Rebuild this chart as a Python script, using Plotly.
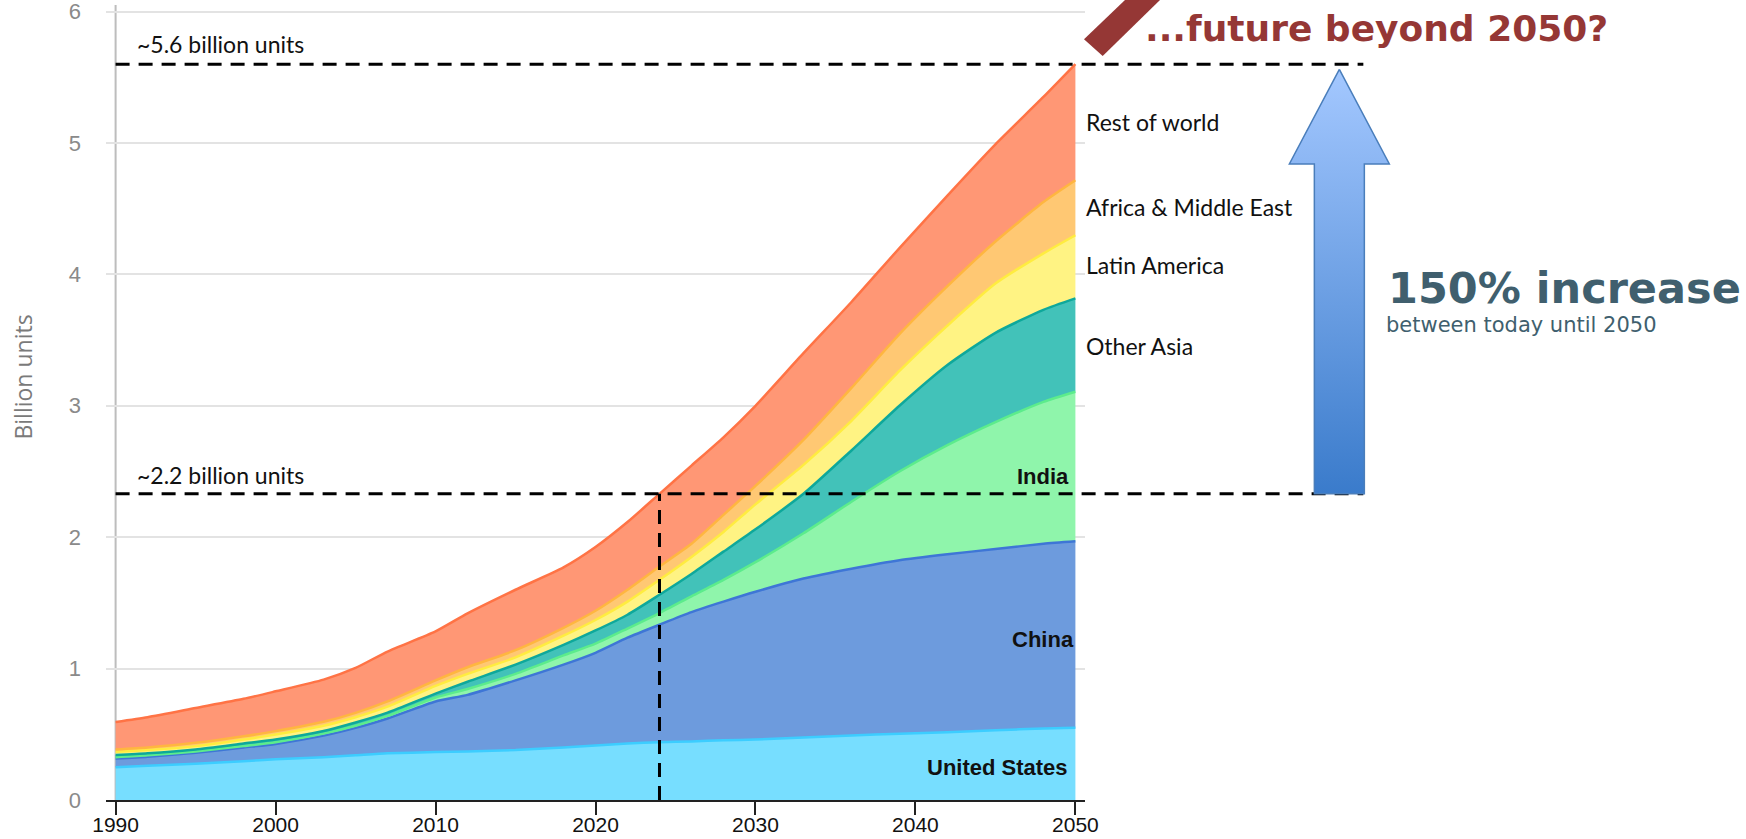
import plotly.graph_objects as go

# ---- data: installed base by region, billion units (stacked from the bottom) ----
years = [1990, 1992, 1995, 1998, 2000, 2003, 2005, 2007, 2010, 2012, 2015, 2018, 2020,
         2022, 2024, 2026, 2028, 2030, 2033, 2036, 2039, 2042, 2045, 2048, 2050]

united_states = [0.25, 0.26, 0.275, 0.295, 0.31, 0.325, 0.34, 0.355, 0.365, 0.37, 0.38, 0.40, 0.415,
                 0.43, 0.44, 0.445, 0.455, 0.46, 0.475, 0.49, 0.505, 0.515, 0.53, 0.545, 0.55]
china = [0.065, 0.07, 0.085, 0.105, 0.117, 0.165, 0.209, 0.265, 0.385, 0.43, 0.53, 0.63, 0.705,
         0.805, 0.894, 0.985, 1.055, 1.125, 1.21, 1.27, 1.32, 1.355, 1.38, 1.405, 1.419]
india = [0.01, 0.01, 0.01, 0.01, 0.013, 0.015, 0.016, 0.02, 0.03, 0.045, 0.05, 0.07, 0.07,
         0.07, 0.089, 0.12, 0.165, 0.225, 0.345, 0.51, 0.675, 0.83, 0.965, 1.08, 1.138]
other_asia = [0.017, 0.015, 0.015, 0.02, 0.02, 0.02, 0.025, 0.025, 0.03, 0.055, 0.07, 0.08, 0.10,
              0.105, 0.139, 0.17, 0.215, 0.25, 0.30, 0.39, 0.50, 0.61, 0.68, 0.70, 0.71]
latin_america = [0.025, 0.025, 0.025, 0.03, 0.038, 0.04, 0.04, 0.045, 0.058, 0.06, 0.055, 0.07, 0.08,
                 0.10, 0.114, 0.13, 0.15, 0.19, 0.22, 0.226, 0.265, 0.30, 0.375, 0.43, 0.481]
africa_middle_east = [0.018, 0.02, 0.025, 0.025, 0.026, 0.03, 0.033, 0.04, 0.042, 0.05, 0.055, 0.06, 0.07,
                      0.09, 0.101, 0.10, 0.13, 0.14, 0.19, 0.25, 0.28, 0.30, 0.32, 0.39, 0.418]
rest_of_world = [0.209, 0.23, 0.265, 0.285, 0.303, 0.321, 0.342, 0.38, 0.373, 0.41, 0.46, 0.46, 0.485,
                 0.515, 0.553, 0.595, 0.59, 0.61, 0.66, 0.654, 0.655, 0.69, 0.74, 0.80, 0.884]

x_ticks = [1990, 2000, 2010, 2020, 2030, 2040, 2050]
y_ticks = [0, 1, 2, 3, 4, 5, 6]

today_year = 2024
end_year = 2050

series = [
    ("United States", united_states, "rgb(119,222,255)", "rgb(60,205,255)"),
    ("China", china, "rgb(109,155,221)", "rgb(62,118,214)"),
    ("India", india, "rgb(143,245,171)", "rgb(92,236,140)"),
    ("Other Asia", other_asia, "rgb(66,194,185)", "rgb(14,168,155)"),
    ("Latin America", latin_america, "rgb(255,243,131)", "rgb(255,236,64)"),
    ("Africa & Middle East", africa_middle_east, "rgb(255,200,115)", "rgb(255,182,64)"),
    ("Rest of world", rest_of_world, "rgb(255,151,117)", "rgb(255,115,69)"),
]

totals = [sum(vals) for vals in zip(*[s[1] for s in series])]
total_today = totals[years.index(today_year)]
total_end = totals[years.index(end_year)]

# ---- page geometry (pixels) ----
W, H = 1746, 839
PLOT_L, PLOT_R, PLOT_T, PLOT_B = 106, 1085, 5, 800
X_RANGE = [1989.4, 2050.6]
Y_RANGE = [0, 6.05]
px_per_year = (PLOT_R - PLOT_L) / (X_RANGE[1] - X_RANGE[0])
# overlay axis spanning the whole page width, in the same year units
X2_RANGE = [X_RANGE[0] - PLOT_L / px_per_year, X_RANGE[0] + (W - PLOT_L) / px_per_year]
Y_DOMAIN = [(H - PLOT_B) / H, (H - PLOT_T) / H]

fig = go.Figure()

for name, vals, fillc, linec in series:
    fig.add_trace(go.Scatter(
        x=years, y=vals, name=name, mode="lines", stackgroup="one",
        line=dict(color=linec, width=2.5, shape="spline", smoothing=0.6),
        fillcolor=fillc, hoverinfo="skip",
    ))

DASH = "14px,9px"

# vertical marker at today's total
fig.add_trace(go.Scatter(
    x=[today_year, today_year], y=[0, total_today], mode="lines",
    line=dict(color="black", width=3, dash=DASH), hoverinfo="skip",
))

# horizontal markers for today's and 2050 totals, running out to the arrow
arrow_x = 2066.5
line_end = 2068.0
for level in (total_end, total_today):
    fig.add_trace(go.Scatter(
        x=[1990, line_end], y=[level, level], mode="lines",
        line=dict(color="black", width=3, dash=DASH),
        xaxis="x2", yaxis="y3", hoverinfo="skip",
    ))

# growth arrow between the two totals
head_hw, shaft_hw = 3.125, 1.5625
tip = total_end - 0.04
head_base = tip - 0.72
bottom = total_today
fig.add_trace(go.Scatter(
    x=[arrow_x, arrow_x + head_hw, arrow_x + shaft_hw, arrow_x + shaft_hw,
       arrow_x - shaft_hw, arrow_x - shaft_hw, arrow_x - head_hw, arrow_x],
    y=[tip, head_base, head_base, bottom, bottom, head_base, head_base, tip],
    mode="lines", fill="toself",
    fillgradient=dict(type="vertical", colorscale=[[0, "#3A7BCB"], [1, "#A4C8FF"]]),
    line=dict(color="#4A7EBB", width=1.5),
    xaxis="x2", yaxis="y3", hoverinfo="skip",
))

# slanted accent bar next to the headline (page pixel corners)
slash_px = [(1125, 0), (1160, 0), (1102.7, 56), (1084, 39.3)]
path = "M " + " L ".join(f"{x / W:.5f},{1 - y / H:.5f}" for x, y in slash_px) + " Z"
shapes = [
    dict(type="path", xref="paper", yref="paper", path=path,
         fillcolor="#953735", line=dict(width=0)),
    dict(type="line", xref="x", yref="y domain", x0=1990, x1=1990, y0=0, y1=1,
         line=dict(color="#bdbdbd", width=2), layer="below"),
]

LABEL_FONT = dict(family="Lato", size=23, color="#111")
BOLD_FONT = dict(family="Liberation Sans", size=22, color="#111")


def note(text, x, y, font, xanchor="left", yanchor="middle", **kw):
    return dict(text=text, x=x, y=y, xref="x2", yref="y3", showarrow=False,
                xanchor=xanchor, yanchor=yanchor, font=font, **kw)


annotations = [
    note("~5.6 billion units", 1991.2, 5.757, LABEL_FONT),
    note("~2.2 billion units", 1991.2, 2.474, LABEL_FONT),
    note("Rest of world", 2050.55, 5.16, LABEL_FONT),
    note("Africa & Middle East", 2050.55, 4.513, LABEL_FONT),
    note("Latin America", 2050.55, 4.075, LABEL_FONT),
    note("Other Asia", 2050.55, 3.457, LABEL_FONT),
    note("<b>India</b>", 2049.75, 2.46, BOLD_FONT, xanchor="right"),
    note("<b>China</b>", 2050.05, 1.22, BOLD_FONT, xanchor="right"),
    note("<b>United States</b>", 2049.65, 0.248, BOLD_FONT, xanchor="right"),
    note("<b>...future beyond 2050?</b>", 2054.2, 5.87,
         dict(family="DejaVu Sans", size=36, color="#953735")),
    note("<b>150% increase</b>", 2069.4, 3.90,
         dict(family="DejaVu Sans", size=43, color="#405F6E")),
    note("between today until 2050", 2069.3, 3.614,
         dict(family="DejaVu Sans", size=21, color="#405F6E")),
    note("Billion units", 1984.2, 3.221,
         dict(family="Open Sans", size=23, color="#7a7a7a"), xanchor="center", textangle=-90),
]

fig.update_layout(
    width=W, height=H, autosize=False,
    margin=dict(l=0, r=0, t=0, b=0, pad=0),
    paper_bgcolor="white", plot_bgcolor="rgba(0,0,0,0)",
    showlegend=False,
    shapes=shapes, annotations=annotations,
    xaxis=dict(
        domain=[PLOT_L / W, PLOT_R / W], range=X_RANGE, anchor="y", automargin=False,
        tickvals=x_ticks, showgrid=False, zeroline=False,
        showline=True, linecolor="#222", linewidth=1.5,
        ticks="outside", ticklen=13, tickwidth=1.5, tickcolor="#222",
        ticklabelstandoff=-8,
        tickfont=dict(family="Liberation Sans", size=21, color="#111"),
        ticklabeloverflow="allow",
    ),
    yaxis=dict(
        domain=Y_DOMAIN, range=Y_RANGE, anchor="x", automargin=False,
        tickvals=y_ticks, showgrid=True, gridcolor="#e3e3e3", gridwidth=1.5,
        zeroline=False, showline=False, ticks="",
        ticklabelstandoff=24, ticklabeloverflow="allow",
        tickfont=dict(family="Liberation Sans", size=22, color="#8a8a8a"),
    ),
    xaxis2=dict(domain=[0, 1], range=X2_RANGE, anchor="y3", visible=False,
                fixedrange=True, automargin=False),
    yaxis3=dict(domain=Y_DOMAIN, range=Y_RANGE, anchor="x2", visible=False,
                fixedrange=True, automargin=False),
)

fig.write_html("out.html")
